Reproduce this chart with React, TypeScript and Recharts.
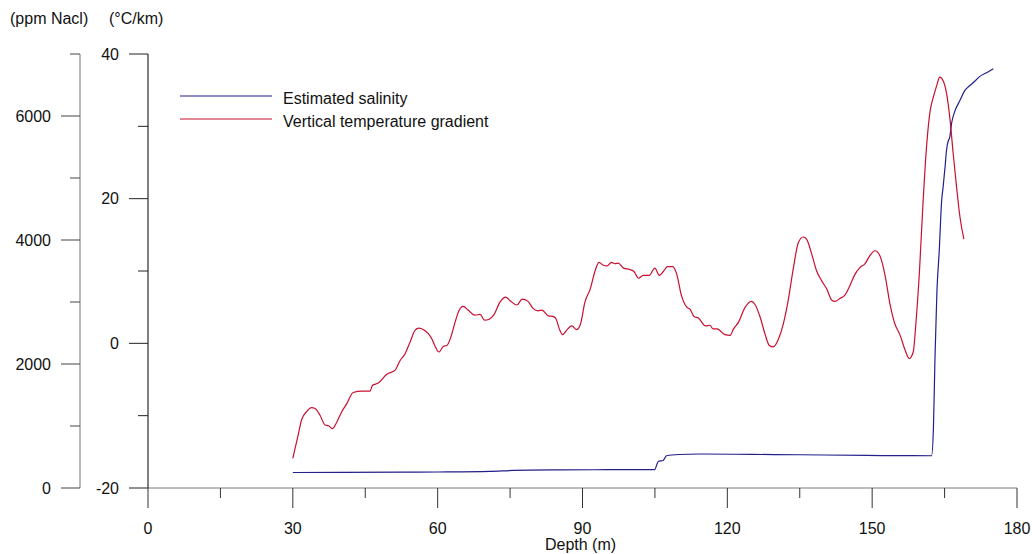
import { LineChart, Line, XAxis, YAxis, Legend } from 'recharts'

const FONT = '"Liberation Sans", Arial, sans-serif'

// depth axis
const depthTicks = [0, 15, 30, 45, 60, 75, 90, 105, 120, 135, 150, 165, 180]
const salinityTicks = [0, 1000, 2000, 3000, 4000, 5000, 6000, 7000]
const gradientTicks = [-20, -10, 0, 10, 20, 30, 40]

// vertical temperature gradient (°C/km) vs depth (m)
const gradDepth = [
  30.0, 31.1, 31.8, 32.9, 33.9, 34.6, 35.6, 36.7, 37.4, 38.2,
  39.1, 40.1, 41.2, 42.5, 44.3, 46.0, 46.5, 47.7, 49.4, 51.2,
  52.2, 53.2, 54.3, 55.3, 56.1, 57.0, 58.8, 59.4, 60.3, 61.2,
  61.9, 62.7, 63.6, 64.4, 65.3, 66.3, 67.7, 68.8, 69.7, 70.6,
  71.7, 72.9, 74.1, 75.0, 76.4, 77.5, 78.7, 79.8, 80.8, 81.6,
  82.9, 84.0, 84.5, 85.2, 85.9, 86.7, 87.8, 88.8, 89.6, 90.5,
  91.6, 92.6, 93.4, 94.3, 95.1, 96.0, 96.7, 97.4, 98.5, 99.8,
  100.7, 101.6, 102.6, 103.8, 105.0, 105.9, 106.7, 107.6, 108.7, 109.5,
  110.5, 111.6, 112.3, 113.1, 114.0, 115.5, 116.4, 117.0, 117.9, 119.5,
  120.6, 121.2, 122.3, 123.7, 125.0, 125.7, 126.8, 127.8, 128.7, 129.5,
  130.6, 131.6, 132.6, 133.7, 134.7, 135.7, 136.4, 137.5, 138.5, 139.5,
  140.6, 141.6, 142.3, 143.3, 144.4, 145.4, 146.4, 147.5, 148.5, 149.5,
  150.6, 151.6, 152.7, 153.7, 154.7, 155.8, 156.8, 157.7, 158.5, 159.1,
  159.8, 160.5, 161.3, 162.0, 162.7, 163.4, 164.0, 164.7, 165.4, 166.1,
  166.8, 167.5, 168.2, 169.0,
]
const gradValue = [
  -15.9, -12.7, -10.6, -9.4, -8.9, -9.0, -9.9, -11.3, -11.4, -11.8,
  -10.9, -9.5, -8.3, -6.8, -6.6, -6.6, -5.8, -5.5, -4.3, -3.7,
  -2.4, -1.5, 0.2, 1.8, 2.1, 1.9, 0.6, -0.3, -1.2, -0.4,
  -0.3, 0.8, 2.9, 4.5, 5.1, 4.6, 3.9, 4.0, 3.2, 3.3,
  4.0, 5.7, 6.4, 5.9, 5.3, 6.1, 5.8, 4.8, 4.5, 4.6,
  3.8, 3.7, 3.4, 2.0, 1.2, 1.8, 2.4, 1.9, 2.7, 5.7,
  7.5, 10.0, 11.2, 10.8, 10.7, 11.2, 11.0, 11.1, 10.4, 10.2,
  9.9, 9.0, 9.4, 9.4, 10.4, 9.4, 9.9, 10.6, 10.6, 9.6,
  6.6, 5.0, 4.7, 3.7, 3.5, 2.4, 2.5, 2.0, 2.0, 1.2,
  1.1, 1.9, 2.9, 5.0, 5.8, 5.4, 3.6, 1.3, -0.3, -0.5,
  0.6, 2.7, 5.9, 10.5, 13.9, 14.7, 14.4, 12.3, 10.0, 8.7,
  7.5, 6.0, 5.8, 6.2, 6.7, 8.0, 9.5, 10.5, 11.0, 12.1,
  12.8, 12.1, 9.3, 5.4, 2.7, 1.1, -0.9, -2.1, -1.2, 3.1,
  10.0, 19.0, 27.5, 32.1, 34.1, 35.7, 36.8, 36.3, 34.6, 31.1,
  26.1, 21.5, 17.4, 14.4,
]

// estimated salinity (ppm NaCl) vs depth (m)
const salDepth = [
  30.0, 40.0, 52.5, 60.0, 70.8, 75.7, 85.3, 95.0, 105.0, 105.4,
  105.7, 106.7, 107.4, 110.0, 114.4, 125.0, 135.0, 148.9, 155.0, 162.3,
  162.7, 163.0, 163.4, 163.9, 164.4, 164.7, 165.1, 165.4, 165.8, 166.0,
  166.5, 167.2, 168.2, 169.2, 170.3, 171.3, 172.3, 173.8, 175.1,
]
const salValue = [
  250, 252, 255, 258, 267, 283, 292, 295, 297, 380,
  428, 444, 520, 540, 548, 542, 536, 525, 522, 520,
  992, 2066, 3140, 3837, 4642, 4857, 5179, 5448, 5609, 5636,
  5903, 6092, 6253, 6414, 6495, 6564, 6639, 6703, 6763,
]

const gradData = gradDepth.map((depth, i) => ({ depth, grad: gradValue[i] }))
const salData = salDepth.map((depth, i) => ({ depth, sal: salValue[i] }))

const yTick = (majorStep: number, color: string) => (props: any) => {
  const { x, y, payload } = props
  const major = payload.value % majorStep === 0
  const len = major ? 19 : 10
  return (
    <g>
      <line x1={x - len} y1={y} x2={x} y2={y} stroke={color} strokeWidth={1} />
      {major && (
        <text x={x - len - 10} y={y} dy="0.36em" textAnchor="end" fontSize={16} fontFamily={FONT} fill="#111">
          {payload.value}
        </text>
      )}
    </g>
  )
}

const xTick = (props: any) => {
  const { x, y, payload } = props
  const major = payload.value % 30 === 0
  const len = major ? 20 : 10
  return (
    <g>
      <line x1={x} y1={y} x2={x} y2={y + len} stroke="#333" strokeWidth={1} />
      {major && (
        <text x={x} y={y + 46} textAnchor="middle" fontSize={16} fontFamily={FONT} fill="#111">
          {payload.value}
        </text>
      )}
    </g>
  )
}

const axisTitle = (text: string, dx: number) => (props: any) => {
  const { viewBox } = props
  return (
    <text x={viewBox.x + dx} y={viewBox.y - 30.5} fontSize={16} fontFamily={FONT} fill="#111">
      {text}
    </text>
  )
}

const renderLegend = (props: any) => {
  const { payload } = props
  return (
    <svg width={340} height={50}>
      {payload.map((entry: any, i: number) => (
        <g key={entry.value}>
          <line x1={10} x2={102} y1={16 + 23 * i} y2={16 + 23 * i} stroke={entry.color} strokeWidth={1.2} />
          <text x={113} y={16 + 23 * i} dy={7.5} fontSize={16} fontFamily={FONT} fill="#111">
            {entry.value}
          </text>
        </g>
      ))}
    </svg>
  )
}

export default function App() {
  return (
    <div style={{ position: 'absolute', left: 0, top: 0, background: '#fff' }}>
      <LineChart width={1032} height={554} margin={{ top: 54, right: 15, bottom: 0, left: 0 }}>
        <XAxis
          type="number"
          dataKey="depth"
          domain={[0, 180]}
          ticks={depthTicks}
          interval={0}
          height={66}
          tickSize={0}
          tickMargin={0}
          tickLine={false}
          tick={xTick}
          stroke="#777"
          label={{ value: 'Depth (m)', position: 'insideBottom', offset: 4, fontSize: 16, fontFamily: FONT, fill: '#111', dx: -2 }}
        />
        <YAxis
          yAxisId="grad"
          type="number"
          domain={[-20, 40]}
          ticks={gradientTicks}
          interval={0}
          width={68}
          tickSize={0}
          tickMargin={0}
          tickLine={false}
          tick={yTick(20, '#222')}
          stroke="#000"
          label={{ content: axisTitle('(°C/km)', 29) }}
        />
        <YAxis
          yAxisId="sal"
          type="number"
          domain={[0, 7000]}
          ticks={salinityTicks}
          interval={0}
          width={80}
          tickSize={0}
          tickMargin={0}
          tickLine={false}
          tick={yTick(2000, '#444')}
          stroke="#777"
          label={{ content: axisTitle('(ppm Nacl)', 10) }}
        />
        <Legend
          layout="horizontal"
          align="center"
          verticalAlign="middle"
          wrapperStyle={{ left: 170, top: 80, width: 340, height: 50 }}
          content={renderLegend}
        />
        <Line
          data={salData}
          yAxisId="sal"
          dataKey="sal"
          name="Estimated salinity"
          type="monotone"
          stroke="#22208a"
          strokeWidth={1.2}
          dot={false}
          isAnimationActive={false}
        />
        <Line
          data={gradData}
          yAxisId="grad"
          dataKey="grad"
          name="Vertical temperature gradient"
          type="monotone"
          stroke="#c8102e"
          strokeWidth={1.2}
          dot={false}
          isAnimationActive={false}
        />
      </LineChart>
    </div>
  )
}
